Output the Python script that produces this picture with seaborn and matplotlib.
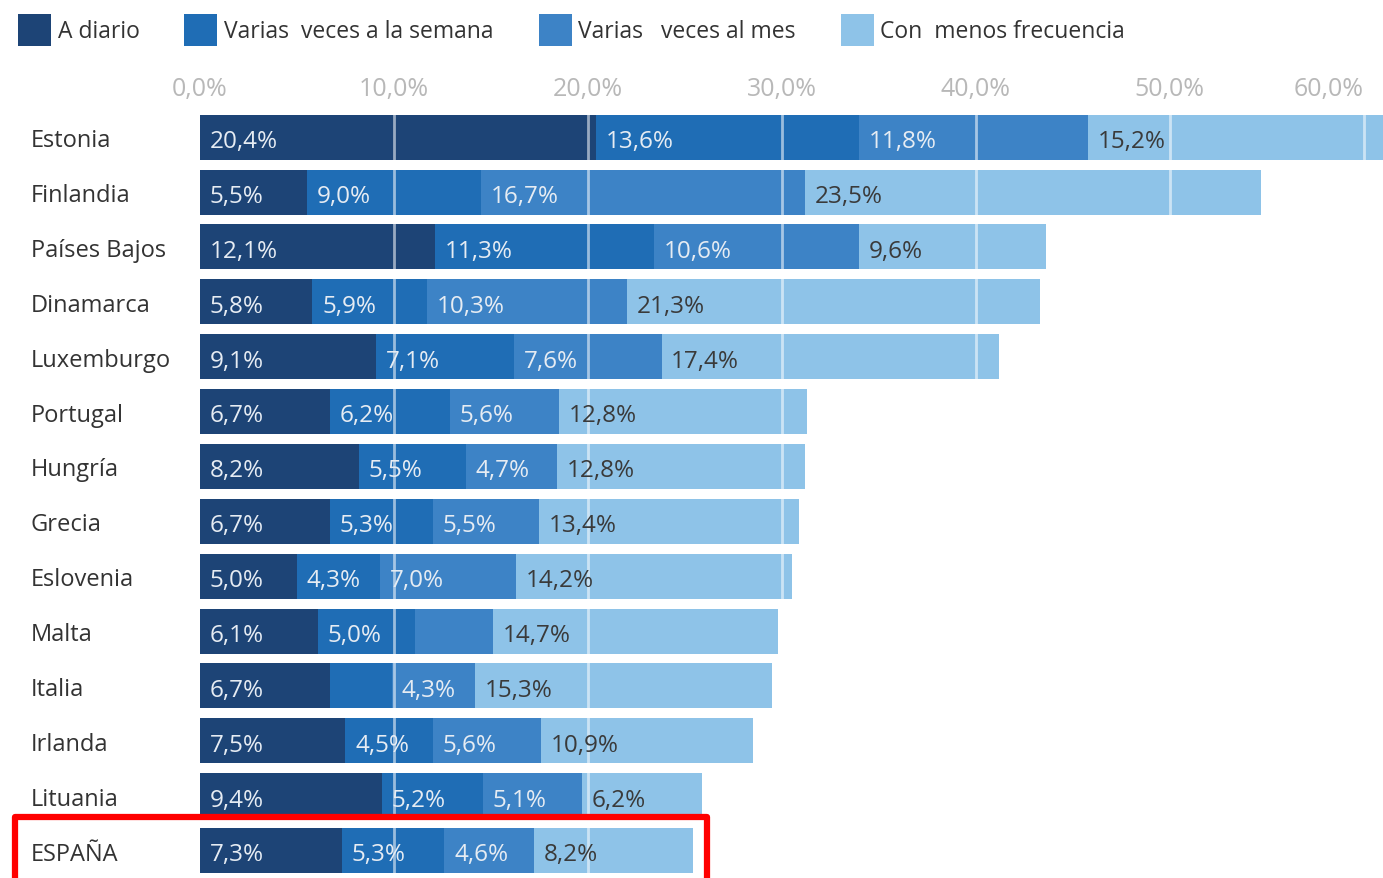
import matplotlib
matplotlib.use("Agg")
import matplotlib.pyplot as plt
from matplotlib.patches import Patch, Rectangle
import numpy as np
import pandas as pd
import seaborn as sns

countries = ["Estonia", "Finlandia", "Países Bajos", "Dinamarca", "Luxemburgo",
             "Portugal", "Hungría", "Grecia", "Eslovenia", "Malta", "Italia",
             "Irlanda", "Lituania", "ESPAÑA"]
diario = [20.4, 5.5, 12.1, 5.8, 9.1, 6.7, 8.2, 6.7, 5.0, 6.1, 6.7, 7.5, 9.4, 7.3]
semana = [13.6, 9.0, 11.3, 5.9, 7.1, 6.2, 5.5, 5.3, 4.3, 5.0, 3.2, 4.5, 5.2, 5.3]
mes = [11.8, 16.7, 10.6, 10.3, 7.6, 5.6, 4.7, 5.5, 7.0, 4.0, 4.3, 5.6, 5.1, 4.6]
menos = [15.2, 23.5, 9.6, 21.3, 17.4, 12.8, 12.8, 13.4, 14.2, 14.7, 15.3, 10.9, 6.2, 8.2]
series_names = ["A diario", "Varias  veces a la semana", "Varias   veces al mes",
                "Con  menos frecuencia"]
# segments drawn without a value label in the original (country, series index)
unlabelled = [("Malta", 2), ("Italia", 1)]
tick_values = [0, 10, 20, 30, 40, 50, 60]

colors = ["#1d4476", "#1f6db5", "#3d83c6", "#8ec3e8"]
label_colors = ["#e6ecf3", "#e6ecf3", "#e6ecf3", "#3a3a3a"]

df = pd.DataFrame({"pais": countries, "s0": diario, "s1": semana, "s2": mes, "s3": menos})
cols = ["s0", "s1", "s2", "s3"]
cum = df[cols].cumsum(axis=1)

sns.set_style("white")
plt.rcParams["font.family"] = ["Open Sans", "DejaVu Sans"]

W, H = 1383, 879
fig = plt.figure(figsize=(W / 100, H / 100), dpi=100)
ax = fig.add_axes([200 / W, 0, 1 - 200 / W, 1 - 108 / H])

# stacked bars: draw cumulative totals from outermost to innermost
for k in reversed(range(4)):
    sns.barplot(x=cum[cols[k]], y=df["pais"], orient="h", color=colors[k],
                saturation=1, width=0.82, linewidth=0, ax=ax)

for x in tick_values[1:]:
    ax.axvline(x, color="white", alpha=0.55, lw=2, zorder=3)

for i, c in enumerate(countries):
    for k in range(4):
        if (c, k) in unlabelled:
            continue
        start = cum[cols[k]][i] - df[cols[k]][i]
        txt = f"{df[cols[k]][i]:.1f}%".replace(".", ",")
        ax.text(start + 0.5, i + 0.07, txt, va="center", ha="left",
                fontsize=17.5, color=label_colors[k], zorder=4)

ax.set_xlim(0, 61)
ax.set_ylim(13.5, -0.55)
ax.xaxis.tick_top()
ax.set_xticks(tick_values)
ax.set_xticklabels([f"{v:.1f}%".replace(".", ",") for v in tick_values])
ax.tick_params(axis="x", length=0, pad=4, labelsize=18, labelcolor="#b8b8b8")
ax.get_xticklabels()[-1].set_ha("right")
ax.tick_params(axis="y", length=0, pad=122, labelsize=17, labelcolor="#333333")
for lab in ax.get_yticklabels():
    lab.set_ha("left")
ax.set_xlabel("")
ax.set_ylabel("")
sns.despine(ax=ax, left=True, bottom=True, top=True, right=True)

handles = [Patch(facecolor=colors[k], edgecolor="none", label=series_names[k]) for k in range(4)]
fig.legend(handles=handles, loc="upper left", bbox_to_anchor=(18 / W, 1 - 15 / H),
           ncol=4, frameon=False, fontsize=16.5, handlelength=1.44, handleheight=1.76,
           handletextpad=0.3, columnspacing=1.95, borderpad=0, borderaxespad=0,
           labelcolor="#333333")

fig.patches.append(Rectangle((15 / W, -0.02), 692 / W, (H - 818) / H + 0.02,
                             transform=fig.transFigure, fill=False,
                             edgecolor="#ff0000", lw=4.5, joinstyle="round",
                             zorder=10))

fig.savefig("out.png", dpi=100)
